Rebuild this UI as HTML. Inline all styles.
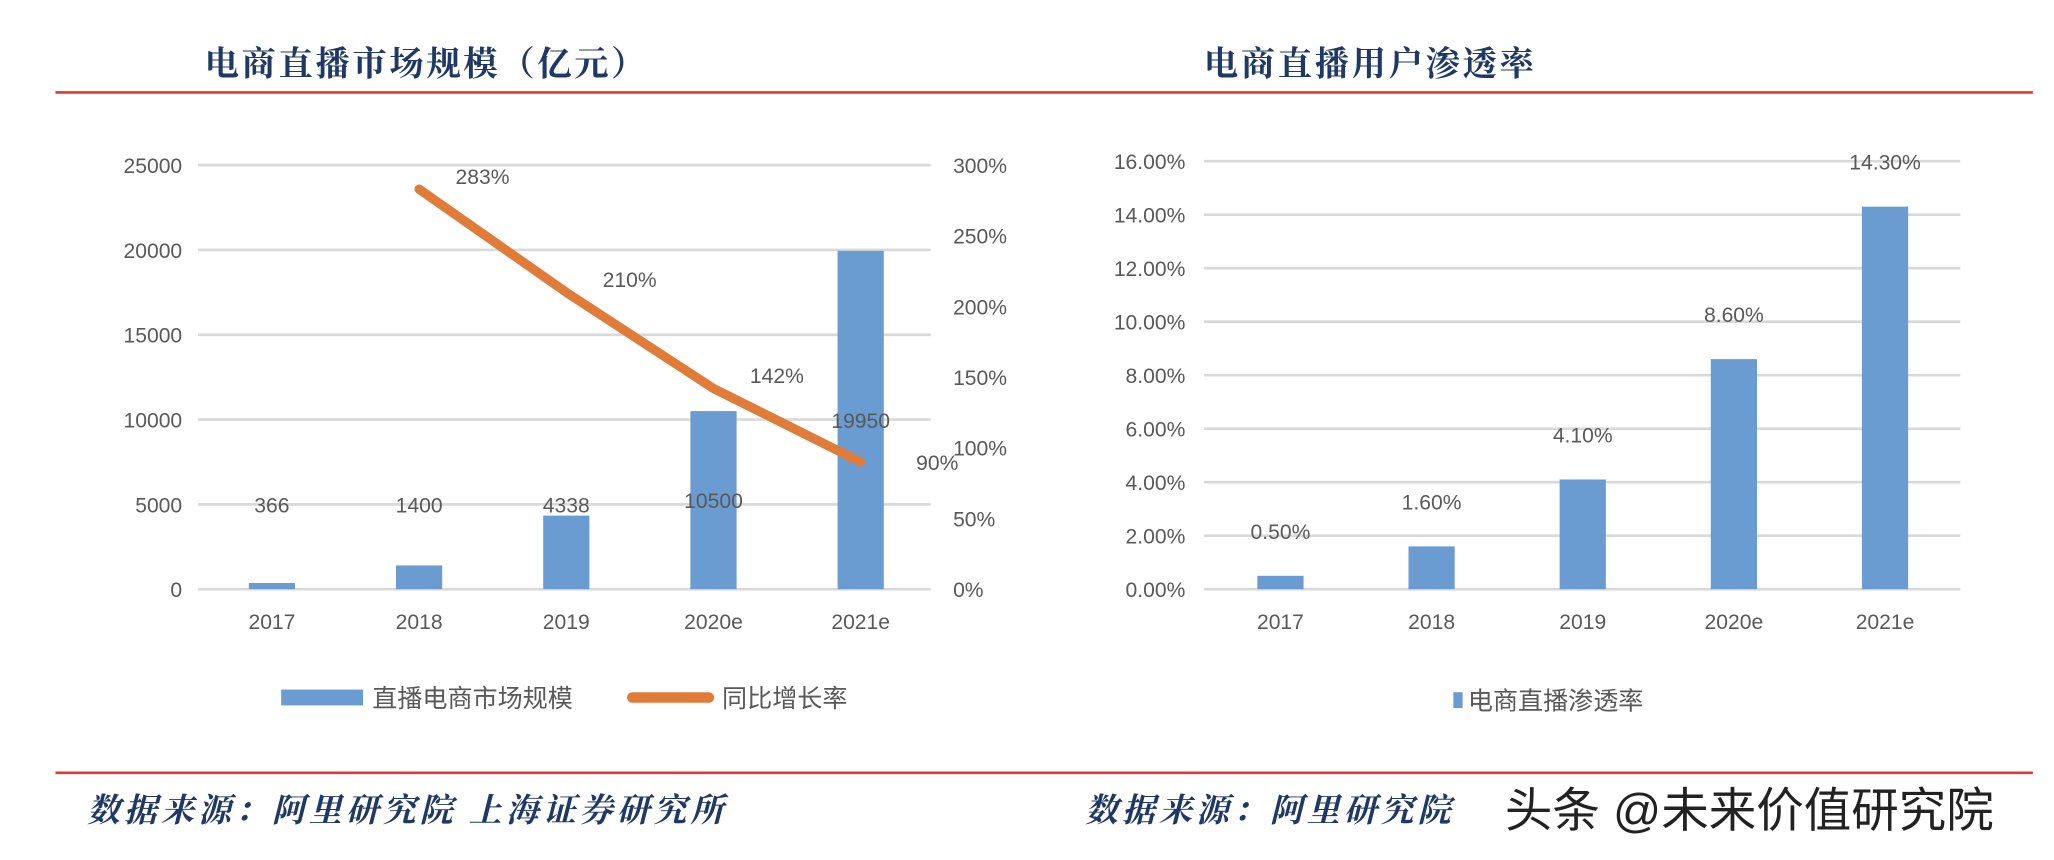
<!DOCTYPE html>
<html><head><meta charset="utf-8"><style>
html,body{margin:0;padding:0;background:#fff;}
svg{display:block;}
text{font-family:"Liberation Sans","Noto Sans CJK SC",sans-serif;}
.t{font-family:"Noto Serif CJK SC","Noto Sans CJK SC",serif;font-weight:bold;fill:#1f3864;}
.ax{fill:#595959;font-size:16px;}
</style></head><body>
<svg id="s" width="2054" height="860" viewBox="0 0 1556 651" preserveAspectRatio="none" xmlns="http://www.w3.org/2000/svg">
<text class="t" x="155" y="57" font-size="26" letter-spacing="2">电商直播市场规模（亿元）</text>
<text class="t" x="912" y="57" font-size="26" letter-spacing="2">电商直播用户渗透率</text>
<line x1="42" y1="70" x2="1540" y2="70" stroke="#e03a32" stroke-width="2"/>
<line x1="42" y1="585" x2="1540" y2="585" stroke="#e03a32" stroke-width="2"/>
<text class="t" x="66" y="622" font-size="25" font-style="italic" letter-spacing="3">数据来源：阿里研究院 上海证券研究所</text>
<text class="t" x="822" y="622" font-size="25" font-style="italic" letter-spacing="3">数据来源：阿里研究院</text>
<text x="1140" y="626" font-size="36" fill="#222">头条 @未来价值研究院</text>
<g id="L"></g>
<g id="R"></g>
</svg>
<script>
const years=["2017","2018","2019","2020e","2021e"];
const marketSize=[366,1400,4338,10500,19950];
const growth=[null,283,210,142,90];
const growthLabels=["","283%","210%","142%","90%"];
const leftTicks=[0,5000,10000,15000,20000,25000];
const rightTicks=[0,50,100,150,200,250,300];
const penetration=[0.5,1.6,4.1,8.6,14.3];
const penTicks=[0,2,4,6,8,10,12,14,16];
const NS="http://www.w3.org/2000/svg";
function mk(p,tag,a,txt){const e=document.createElementNS(NS,tag);for(const k in a)e.setAttribute(k,a[k]);if(txt!==undefined)e.textContent=txt;p.appendChild(e);return e;}
const L=document.getElementById('L'),R=document.getElementById('R');
const yL=v=>446-v/25000*321, yP=v=>446-v/300*321, xL=i=>206+i*111.5;
leftTicks.forEach(t=>{
 const g=mk(L,'line',{x1:150,x2:705,y1:yL(t),y2:yL(t),stroke:'#d9d9d9','stroke-width':2});
 
 
 const l=mk(L,'text',{x:138,y:yL(t)+6,'text-anchor':'end',class:'ax'},t);
 
 
});
rightTicks.forEach(t=>{
 const l=mk(L,'text',{x:722,y:yP(t)+6,class:'ax'},t+'%');
 
 
});
years.forEach((y,i)=>{
 const b=mk(L,'rect',{x:xL(i)-17.5,y:yL(marketSize[i]),width:35,height:446-yL(marketSize[i]),fill:'#6a9bd1'});
 
 
 const v=mk(L,'text',{x:xL(i),y:Math.min(382,yL(marketSize[i]/2))+6,'text-anchor':'middle',class:'ax'},marketSize[i]);
 
 
 const x=mk(L,'text',{x:xL(i),y:476,'text-anchor':'middle',class:'ax'},y);
 
 
});
let pts=[];growth.forEach((g,i)=>{if(g!==null)pts.push(xL(i)+','+yP(g));});
const pl=mk(L,'polyline',{points:pts.join(' '),fill:'none',stroke:'#e07b39','stroke-width':7,'stroke-linecap':'round','stroke-linejoin':'round'});


growth.forEach((g,i)=>{if(g===null)return;
 const off=i===4?[58,6]:[48,-4];
 const t=mk(L,'text',{x:xL(i)+off[0],y:yP(g)+off[1],'text-anchor':'middle',class:'ax'},growthLabels[i]);
 
 
});
const lg1=mk(L,'rect',{x:213,y:522,width:62,height:12,fill:'#6a9bd1'});


const lt1=mk(L,'text',{x:282,y:535,class:'ax',style:'font-size:19px'},'直播电商市场规模');


const lg2=mk(L,'line',{x1:479,x2:537,y1:528,y2:528,stroke:'#e07b39','stroke-width':8,'stroke-linecap':'round'});


const lt2=mk(L,'text',{x:547,y:535,class:'ax',style:'font-size:19px'},'同比增长率');


const yR=v=>446-v/16*324, xR=i=>970+i*114.5;
penTicks.forEach(t=>{
 const g=mk(R,'line',{x1:912,x2:1485,y1:yR(t),y2:yR(t),stroke:'#d9d9d9','stroke-width':2});
 
 
 const l=mk(R,'text',{x:898,y:yR(t)+6,'text-anchor':'end',class:'ax'},t.toFixed(2)+'%');
 
 
});
years.forEach((y,i)=>{
 const b=mk(R,'rect',{x:xR(i)-17.5,y:yR(penetration[i]),width:35,height:446-yR(penetration[i]),fill:'#6a9bd1'});
 
 
 const v=mk(R,'text',{x:xR(i),y:yR(penetration[i])-28,'text-anchor':'middle',class:'ax'},penetration[i].toFixed(2)+'%');
 
 
 const x=mk(R,'text',{x:xR(i),y:476,'text-anchor':'middle',class:'ax'},y);
 
 
});
const lg3=mk(R,'rect',{x:1101,y:524,width:7,height:12,fill:'#6a9bd1'});


const lt3=mk(R,'text',{x:1112,y:537,class:'ax',style:'font-size:19px'},'电商直播渗透率');


</script>
</body></html>
